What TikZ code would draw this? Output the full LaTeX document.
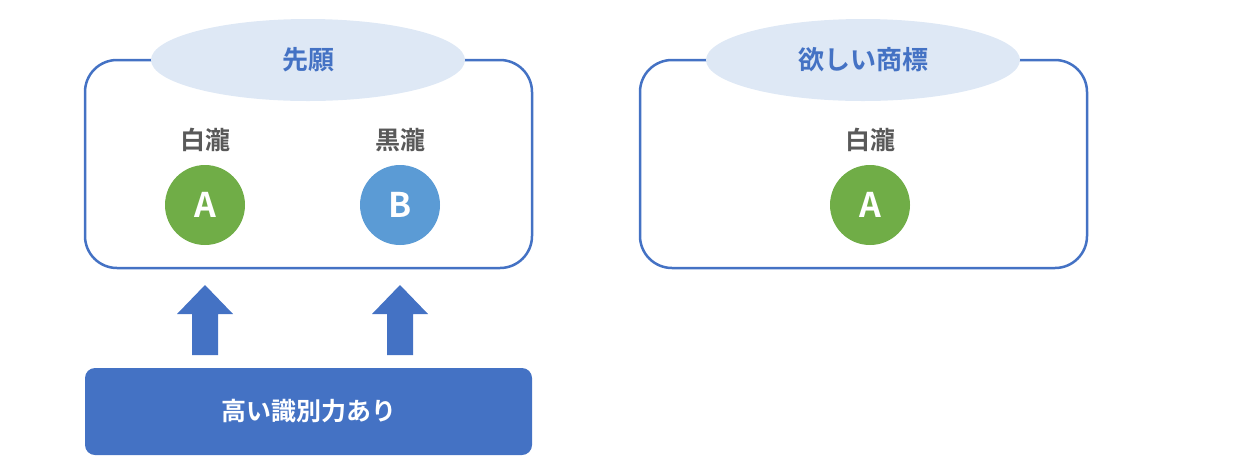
\documentclass[tikz,border=0pt]{standalone}
\usepackage{fontspec}
\setmainfont{Noto Sans CJK JP}[BoldFont={Noto Sans CJK JP Bold}]
\usetikzlibrary{shapes.geometric}
\definecolor{mblue}{HTML}{4472C4}
\definecolor{lblue}{HTML}{DEE8F5}
\definecolor{mgreen}{HTML}{70AD47}
\definecolor{sblue}{HTML}{5B9BD5}
\definecolor{tgray}{HTML}{595959}
\begin{document}
\begin{tikzpicture}[x=1pt,y=-1pt,
 box/.style={draw=mblue,line width=2.5pt,rounded corners=32pt},
 title/.style={ellipse,fill=lblue,minimum width=314pt,minimum height=82pt,text=mblue,font=\bfseries\fontsize{26}{30}\selectfont},
 lab/.style={text=tgray,font=\bfseries\fontsize{25}{30}\selectfont},
 ball/.style={circle,minimum size=80pt,inner sep=0pt,text=white,font=\bfseries\fontsize{34}{40}\selectfont},
 uparrow/.style={fill=mblue}]
\useasboundingbox (0,0) rectangle (1244,467);
\draw[box] (85,60) rectangle (532,268);
\node[title] (t1) at (308,60) {先願};
\node[lab] (l1) at (205,140) {白瀧};
\node[lab] (l2) at (400,140) {黒瀧};
\node[ball,fill=mgreen] (a1) at (205,205) {A};
\node[ball,fill=sblue] (b1) at (400,205) {B};
\draw[box] (640,60) rectangle (1087,268);
\node[title] (t2) at (863,60) {欲しい商標};
\node[lab] (l3) at (870,140) {白瀧};
\node[ball,fill=mgreen] (a2) at (870,205) {A};
\foreach \x in {205,400}{
 \fill[uparrow] (\x-13,355) -- (\x-13,314) -- (\x-28,314) -- (\x,285) -- (\x+28,314) -- (\x+13,314) -- (\x+13,355) -- cycle;}
\node[fill=mblue,rounded corners=10pt,minimum width=447pt,minimum height=87pt,text=white,font=\bfseries\fontsize{25}{30}\selectfont] (r) at (308.5,411.5) {高い識別力あり};
\end{tikzpicture}
\end{document}
